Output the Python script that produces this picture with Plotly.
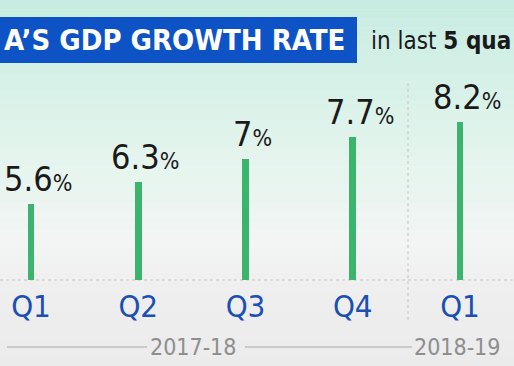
import plotly.graph_objects as go

# ---- data ----
categories = ["Q1 2017-18", "Q2 2017-18", "Q3 2017-18", "Q4 2017-18", "Q1 2018-19"]
quarter_labels = ["Q1", "Q2", "Q3", "Q4", "Q1"]
growth = [5.6, 6.3, 7.0, 7.7, 8.2]
value_labels = ["5.6", "6.3", "7", "7.7", "8.2"]
year_labels = ["2017-18", "2018-19"]
title_text = "A’S GDP GROWTH RATE"
subtitle_plain = "in last "
subtitle_bold = "5 qua"

W, H = 514, 366
NARROW = "DejaVu Sans Condensed, DejaVu Sans, sans-serif"

def px(x):
    return x / W

def py(y):
    return 1 - y / H

fig = go.Figure()
fig.add_trace(go.Bar(
    x=categories, y=growth, width=0.065,
    marker=dict(color="#3cb56c", line=dict(width=0)),
    hoverinfo="skip",
))

# background gradient bands
stops = [(0, (199, 236, 225)), (100, (218, 242, 233)), (180, (232, 245, 239)),
         (245, (243, 245, 244)), (285, (238, 239, 238)), (366, (235, 235, 235))]
shapes = []
nb = 40
for i in range(nb):
    ya = H * i / nb
    yb = H * (i + 1) / nb
    ym = (ya + yb) / 2
    for (s0, c0), (s1, c1) in zip(stops[:-1], stops[1:]):
        if s0 <= ym <= s1:
            t = (ym - s0) / (s1 - s0)
            c = tuple(int(round(c0[k] + (c1[k] - c0[k]) * t)) for k in range(3))
            break
    shapes.append(dict(type="rect", xref="paper", yref="paper", x0=0, x1=1,
                       y0=py(yb), y1=py(ya), fillcolor="rgb(%d,%d,%d)" % c,
                       line=dict(width=0), layer="below"))

# baseline dotted
shapes.append(dict(type="line", xref="paper", yref="paper", x0=0, x1=1,
                   y0=py(280), y1=py(280), line=dict(color="#c4c4c4", width=1, dash="dot"),
                   layer="below"))
# vertical separator
shapes.append(dict(type="line", xref="paper", yref="paper", x0=px(408), x1=px(408),
                   y0=py(320), y1=py(82), line=dict(color="#c4c4c4", width=1, dash="dot"),
                   layer="below"))
# year lines
for a, b in [(7, 147), (245, 412)]:
    shapes.append(dict(type="line", xref="paper", yref="paper", x0=px(a), x1=px(b),
                       y0=py(347), y1=py(347), line=dict(color="#a8a8a8", width=1)))
# title banner
shapes.append(dict(type="rect", xref="paper", yref="paper", x0=0, x1=px(357),
                   y0=py(63), y1=py(17), fillcolor="#0e53c6", line=dict(width=0)))

annotations = []
for c, v, t in zip(categories, growth, value_labels):
    annotations.append(dict(
        x=c, y=v, xref="x", yref="y", xanchor="center", yanchor="bottom",
        text=t + "<span style='font-size:23px'>%</span>", showarrow=False,
        xshift=7, yshift=3, font=dict(family=NARROW, size=34, color="#1a1a1a")))

annotations.append(dict(x=px(193), y=py(347), xref="paper", yref="paper",
                        text=year_labels[0], showarrow=False, xanchor="center", yanchor="middle",
                        font=dict(family=NARROW, size=23, color="#8e8e8e")))
annotations.append(dict(x=px(457), y=py(347), xref="paper", yref="paper",
                        text=year_labels[1], showarrow=False, xanchor="center", yanchor="middle",
                        font=dict(family=NARROW, size=23, color="#8e8e8e")))
annotations.append(dict(x=px(347), y=py(40), xref="paper", yref="paper",
                        text="<b>" + title_text + "</b>", showarrow=False,
                        xanchor="right", yanchor="middle",
                        font=dict(family=NARROW, size=29, color="white")))
annotations.append(dict(x=px(369), y=py(41), xref="paper", yref="paper",
                        text=subtitle_plain + "<b>" + subtitle_bold + "</b>", showarrow=False,
                        xanchor="left", yanchor="middle",
                        font=dict(family=NARROW, size=24, color="#1a1a1a")))

x_lo = -31 / 107.25
x_hi = (W - 31) / 107.25
fig.update_layout(
    width=W, height=H, margin=dict(l=0, r=0, t=0, b=0),
    paper_bgcolor="#ebebeb", plot_bgcolor="rgba(0,0,0,0)",
    showlegend=False, shapes=shapes, annotations=annotations,
    xaxis=dict(range=[x_lo, x_hi], tickmode="array", tickvals=categories,
               ticktext=quarter_labels, showgrid=False, zeroline=False, showline=False,
               ticks="", tickfont=dict(family=NARROW, size=31, color="#1a4fb5"),
               ticklabelstandoff=5, fixedrange=True),
    yaxis=dict(range=[3.18, 12.05], domain=[py(280), 1], visible=False, fixedrange=True),
    bargap=0,
)
post = """
document.body.style.margin = '0';
document.body.style.overflow = 'hidden';
var st = document.createElement('style');
st.textContent = '.main-svg text { font-stretch: condensed !important; }';
document.head.appendChild(st);
"""
fig.write_html("out.html", post_script=post, config={"displayModeBar": False})
